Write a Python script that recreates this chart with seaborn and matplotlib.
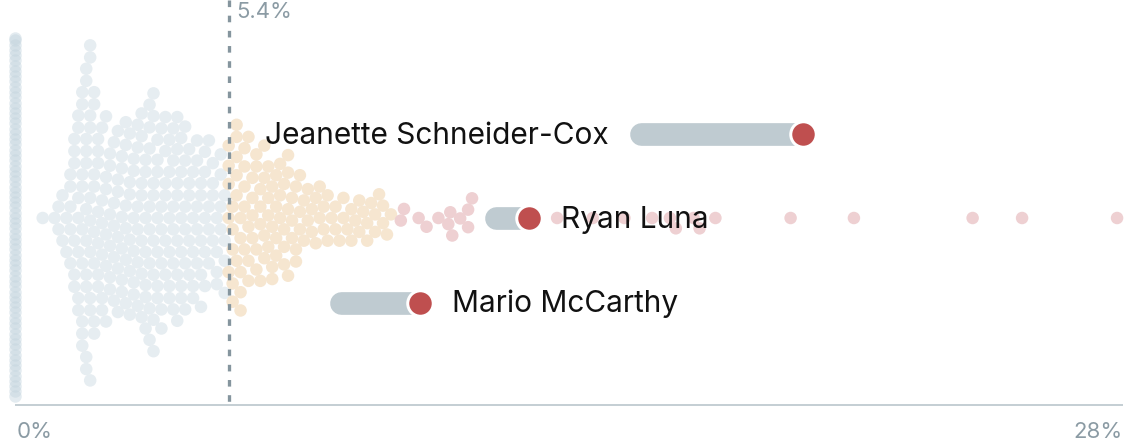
import numpy as np
import pandas as pd
import matplotlib
matplotlib.use("Agg")
import matplotlib.pyplot as plt
import seaborn as sns

# ---------------- data ----------------
zero_value = 0.0
zero_count = 70

blue_values = [0.7, 1.0, 1.1, 1.2, 1.3, 1.4, 1.5, 1.6, 1.7, 1.8, 1.9, 2.0, 2.1, 2.2,
               2.3, 2.4, 2.5, 2.6, 2.7, 2.8, 2.9, 3.0, 3.1, 3.2, 3.3, 3.4, 3.5, 3.6,
               3.7, 3.8, 3.9, 4.0, 4.1, 4.2, 4.3, 4.4, 4.5, 4.6, 4.7, 4.8, 4.9, 5.0,
               5.1, 5.2, 5.3]
blue_counts = [1, 1, 2, 2, 2, 5, 6, 7, 9, 11, 10, 8, 7, 6,
               6, 6, 5, 6, 6, 6, 6, 6, 6, 7, 7, 8, 8, 7,
               6, 6, 6, 6, 7, 6, 6, 5, 5, 5, 5, 5, 4, 4,
               4, 4, 4]

beige_values = [5.4, 5.5, 5.6, 5.7, 5.8, 5.9, 6.0, 6.1, 6.2, 6.3, 6.4, 6.5, 6.6, 6.7,
                6.8, 6.9, 7.0, 7.1, 7.2, 7.3, 7.4, 7.5, 7.6, 7.7, 7.8, 7.9, 8.0, 8.1,
                8.2, 8.3, 8.4, 8.5, 8.6, 8.7, 8.8, 8.9, 9.0, 9.1, 9.2, 9.3, 9.4, 9.5]
beige_counts = [5, 5, 6, 5, 5, 4, 4, 4, 4, 4, 4, 4, 4, 3,
                4, 4, 3, 3, 3, 2, 2, 2, 2, 2, 2, 2, 1, 2,
                1, 2, 1, 2, 1, 2, 1, 2, 1, 2, 1, 2, 1, 1]

pink_values = [9.75, 9.83, 10.2, 10.4, 10.7, 10.95, 11.0, 11.05, 11.25, 11.45, 11.45,
               11.55, 12.15, 12.8, 13.7, 14.6, 15.4, 16.1, 16.55, 16.7, 17.15, 17.3,
               17.7, 19.6, 21.2, 24.2, 25.45, 27.85]

national_average = 5.4
high_threshold = 9.7

people = ["Jeanette Schneider-Cox", "Ryan Luna", "Mario McCarthy"]
people_start = [15.82, 12.16, 8.24]
people_end = [19.91, 12.99, 10.23]

axis_min, axis_max = 0, 28
tick_labels = ["0%", "28%"]
average_label = "5.4%"

# ---------------- layout / style ----------------
W, H, DPI = 1140, 446, 100
PT = 72 / DPI                      # points per pixel
x0_px, x1_px = 15, 1123            # pixel positions of 0% and 28%
px_per_unit = (x1_px - x0_px) / (axis_max - axis_min)
unit_px = 450                      # pixels per unit on the vertical (categorical) axis
center_px = 218                    # swarm centre (px from top)
baseline_px = 405
row_offsets_px = [-83.5, 0, 84.5]
label_side = ["left", "right", "right"]
dot_px = 12.5                      # drawn dot diameter
main_layout_px = 11.5              # spacing used to pack the swarm
zero_layout_px = 5.0               # spacing used to pack the 0% column

c_blue = "#e6edf1"
c_beige = "#f6e6d0"
c_pink = "#eed0d2"
c_zero = "#c3d4de"
c_red = "#bf4f4f"
c_bar = "#bfcbd1"
c_axis = "#c5cfd4"
c_dash = "#85959e"
c_tick = "#8b9ba4"

sns.set_theme(style="white")
plt.rcParams["font.family"] = ["Inter", "DejaVu Sans"]

fig = plt.figure(figsize=(W / DPI, H / DPI), dpi=DPI)
ax = fig.add_axes([0, 0, 1, 1])

main_vals = np.concatenate([np.repeat(blue_values, blue_counts),
                            np.repeat(beige_values, beige_counts),
                            np.array(pink_values)])
groups = np.where(main_vals < national_average, "below",
                  np.where(main_vals < high_threshold, "mid", "high"))
df = pd.DataFrame({"value": main_vals, "group": groups})

sns.swarmplot(data=df, x="value", hue="group", hue_order=["below", "mid", "high"],
              palette={"below": c_blue, "mid": c_beige, "high": c_pink},
              size=main_layout_px * PT, linewidth=0, legend=False, ax=ax, zorder=2)
main_coll = ax.collections[-1]

zeros = np.repeat(zero_value, zero_count)
sns.swarmplot(x=zeros, color=c_zero, size=zero_layout_px * PT, linewidth=0,
              alpha=0.45, ax=ax, zorder=1)
zero_coll = ax.collections[-1]

xlim = (axis_min - x0_px / px_per_unit, axis_max + (W - x1_px) / px_per_unit)
ylim = ((H - center_px) / unit_px, -center_px / unit_px)
ax.set_xlim(*xlim)
ax.set_ylim(*ylim)
ax.axis("off")

base_y = (baseline_px - center_px) / unit_px
top_y = ylim[1]

# baseline
ax.plot([axis_min, axis_max], [base_y, base_y], color=c_axis, lw=2 * PT,
        solid_capstyle="butt", zorder=3)
# average dashed line
ax.plot([national_average, national_average], [top_y, base_y], color=c_dash,
        lw=3.3 * PT, dashes=(2.0, 2.6), zorder=4)
ax.annotate(average_label, xy=(national_average, top_y), xytext=(8 * PT, -18 * PT),
            textcoords="offset points", ha="left", va="baseline",
            fontsize=16, color=c_tick)

# tick labels
ax.annotate(tick_labels[0], xy=(axis_min, base_y), xytext=(2 * PT, -33 * PT),
            textcoords="offset points", ha="left", va="baseline", fontsize=16,
            color=c_tick)
ax.annotate(tick_labels[1], xy=(axis_max, base_y), xytext=(0, -33 * PT),
            textcoords="offset points", ha="right", va="baseline", fontsize=16,
            color=c_tick)

# highlighted people
for name, s, e, off, side in zip(people, people_start, people_end,
                                 row_offsets_px, label_side):
    y = off / unit_px
    ax.plot([s, e], [y, y], color=c_bar, lw=22.7 * PT, solid_capstyle="round",
            zorder=5)
    ax.plot([e], [y], marker="o", ms=25.5 * PT, mfc=c_red, mec="white",
            mew=3 * PT, zorder=6)
    if side == "left":
        ax.annotate(name, xy=(s, y), xytext=(-32 * PT, -10 * PT),
                    textcoords="offset points", ha="right", va="baseline",
                    fontsize=21.5, color="#111111", zorder=7)
    else:
        ax.annotate(name, xy=(e, y), xytext=(32 * PT, -10 * PT),
                    textcoords="offset points", ha="left", va="baseline",
                    fontsize=21.5, color="#111111", zorder=7)

# lay out the swarms with their packing size, then show dots at full size
fig.canvas.draw()
for coll in (main_coll, zero_coll):
    if "draw" in vars(coll):
        del coll.draw
    coll.set_sizes([(dot_px * PT) ** 2])

fig.savefig("out.png", dpi=DPI)
